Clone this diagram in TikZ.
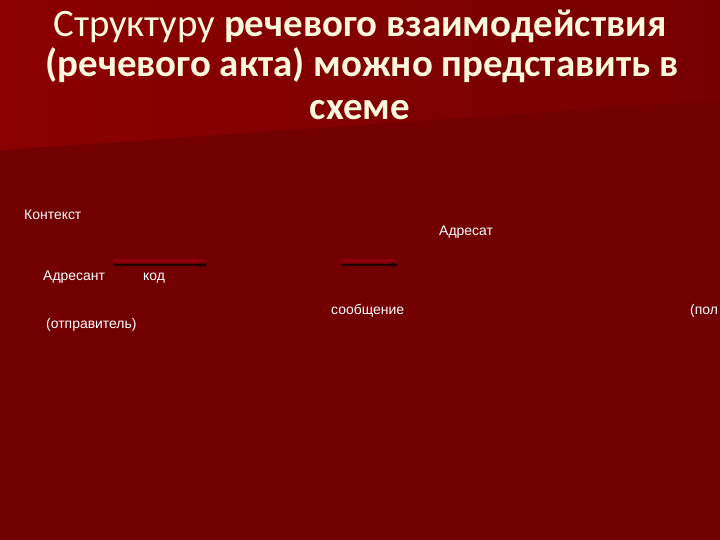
\documentclass[tikz,border=0pt]{standalone}
\usepackage{fontspec}
\setmainfont{Liberation Sans}
\newfontfamily\titlefont{Carlito}
\usetikzlibrary{arrows.meta}
\definecolor{bgbase}{HTML}{720000}
\definecolor{bgtopL}{HTML}{8C0000}
\definecolor{bgtopR}{HTML}{760000}
\definecolor{cream}{HTML}{FFF8DC}
\definecolor{arrowdark}{HTML}{200000}
\definecolor{arrowglow}{HTML}{980012}
\tikzset{
  lbl/.style={text=white, font=\fontsize{14}{16}\selectfont, inner sep=0pt, anchor=west},
  ttl/.style={text=cream, inner sep=0pt, anchor=base},
  arr/.style={draw=arrowdark, line width=2bp, -{Latex[length=7bp,width=6bp]}},
  glow/.style={draw=arrowglow, line width=3bp, opacity=0.8},
}
\begin{document}
\begin{tikzpicture}[x=1bp,y=-1bp]
\useasboundingbox (0,0) rectangle (720,540);
\fill[bgbase] (0,0) rectangle (720,540);
\shade[left color=bgtopL, right color=bgtopR] (0,0) -- (720,0) -- (720,100) -- (0,150) -- cycle;
% title
\node[ttl] (t1) at (360,37) {\titlefont\fontsize{39}{46}\selectfont Структуру \bfseries речевого взаимодействия};
\node[ttl] (t2) at (362,77) {\titlefont\bfseries\fontsize{39}{46}\selectfont (речевого акта) можно представить в};
\node[ttl] (t3) at (360,120) {\titlefont\bfseries\fontsize{39}{46}\selectfont схеме};
% labels
\node[lbl] (kontekst) at (24,215) {Контекст};
\node[lbl] (adresat) at (439,232) {Адресат};
\node[lbl] (adresant) at (43,277) {Адресант};
\node[lbl] (kod) at (143,278) {код};
\node[lbl] (soob) at (331,311) {сообщение};
\node[lbl] (pol) at (690,311) {(пол};
\node[lbl] (otpr) at (46,325) {(отправитель)};
% arrows
\coordinate (a1s) at (114,265);
\coordinate (a1e) at (208,265);
\coordinate (a2s) at (341,265);
\coordinate (a2e) at (399,265);
\draw[glow] ([yshift=4bp]a1s) -- ([yshift=4bp,xshift=-4bp]a1e);
\draw[glow] ([yshift=4bp]a2s) -- ([yshift=4bp,xshift=-4bp]a2e);
\draw[arr] (a1s) -- (a1e);
\draw[arr] (a2s) -- (a2e);
\end{tikzpicture}
\end{document}
